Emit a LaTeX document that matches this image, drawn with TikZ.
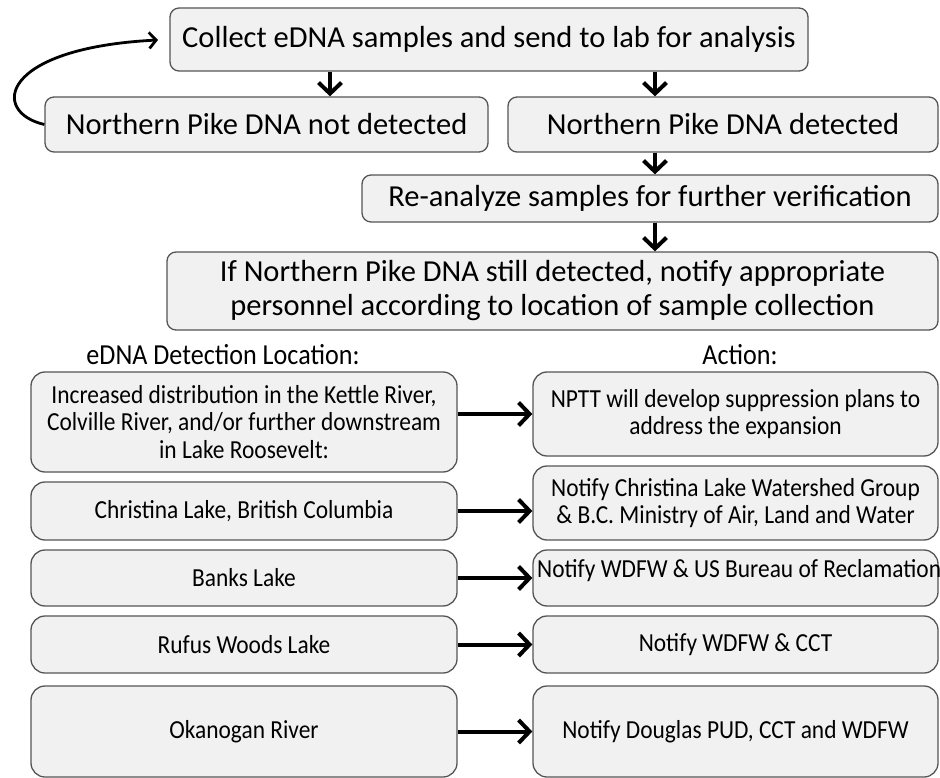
\documentclass[tikz,border=0pt]{standalone}
\usepackage{fontspec}
\setmainfont{Carlito}
\newfontfamily\narrowfont[FakeStretch=0.9]{Carlito}
\usetikzlibrary{arrows.meta}
\definecolor{boxfill}{RGB}{241,241,241}
\definecolor{boxline}{RGB}{85,85,85}

\begin{document}
\begin{tikzpicture}[x=1pt,y=-1pt,
    stepbox/.style={draw=boxline, fill=boxfill, line width=1.3pt, rounded corners=9pt,
      inner sep=0pt, align=center, font=\fontsize{30.5}{34}\selectfont},
    sitebox/.style={stepbox, rounded corners=14pt, font=\narrowfont\fontsize{26}{27.5}\selectfont},
    sitetext/.style={inner sep=0pt, font=\narrowfont\fontsize{26}{27.5}\selectfont},
    heading/.style={font=\narrowfont\fontsize{29}{30}\selectfont},
    flow/.style={-{Straight Barb[length=11pt,width=23pt]}, line width=4pt},
    loopflow/.style={-{Straight Barb[length=7pt,width=16pt]}, line width=2.8pt}]
    \useasboundingbox (0,0) rectangle (940,778);

    % top of the flow
    \node[stepbox, minimum width=638pt, minimum height=63pt] (collect) at (489,39.5) {Collect eDNA samples and send to lab for analysis};
    \node[stepbox, minimum width=443pt, minimum height=55pt] (notdet) at (266.5,124.5) {Northern Pike DNA not detected};
    \node[stepbox, minimum width=430pt, minimum height=55pt] (det) at (723,124.5) {Northern Pike DNA detected};
    \node[stepbox, minimum width=576pt, minimum height=47pt] (reanalyze) at (650,198.5) {Re-analyze samples for further verification};
    \node[stepbox, minimum width=771pt, minimum height=78pt] (notify) at (552.5,291) {If Northern Pike DNA still detected, notify appropriate\\personnel according to location of sample collection};

    \coordinate (c1) at (330,0);
    \coordinate (c2) at (655,0);
    \coordinate (back) at (158,40);

    \draw[flow] (collect.south -| c1) -- (notdet.north -| c1);
    \draw[flow] (collect.south -| c2) -- (det.north -| c2);
    \draw[flow] (det.south -| c2) -- (reanalyze.north -| c2);
    \draw[flow] (reanalyze.south -| c2) -- (notify.north -| c2);
    \draw[loopflow] (notdet.west) .. controls (-10,112) and (0,48) .. (back);

    % locations and actions
    \node[heading] (loclabel) at (223,355) {eDNA Detection Location:};
    \node[heading] (actlabel) at (740,355) {Action:};

    \node[sitebox, minimum width=426pt, minimum height=100pt] (loc1) at (244,422) {Increased distribution in the Kettle River,\\Colville River, and/or further downstream\\in Lake Roosevelt:};
    \node[sitebox, minimum width=405pt, minimum height=84pt] (act1) at (735.5,414) {NPTT will develop suppression plans to\\address the expansion};
    \node[sitebox, minimum width=426pt, minimum height=58pt] (loc2) at (244,511) {Christina Lake, British Columbia};
    \node[sitebox, minimum width=405pt, minimum height=74pt] (act2) at (735.5,503) {Notify Christina Lake Watershed Group\\\& B.C. Ministry of Air, Land and Water};
    \node[sitebox, minimum width=426pt, minimum height=56pt] (loc3) at (244,578) {Banks Lake};
    \node[sitebox, minimum width=405pt, minimum height=56pt] (act3) at (735.5,578) {};
    \node[sitetext, anchor=west] (act3text) at (537,571) {Notify WDFW \& US Bureau of Reclamation};
    \node[sitebox, minimum width=426pt, minimum height=57pt] (loc4) at (244,644.5) {Rufus Woods Lake};
    \node[sitebox, minimum width=405pt, minimum height=57pt] (act4) at (735.5,644.5) {Notify WDFW \& CCT};
    \node[sitebox, minimum width=426pt, minimum height=91pt] (loc5) at (244,731.5) {Okanogan River};
    \node[sitebox, minimum width=405pt, minimum height=91pt] (act5) at (735.5,731.5) {Notify Douglas PUD, CCT and WDFW};

    \draw[flow] (loc1.east |- act1.west) -- (act1.west);
    \draw[flow] (loc2.east) -- (loc2.east -| act2.west);
    \draw[flow] (loc3.east) -- (act3.west);
    \draw[flow] (loc4.east) -- (act4.west);
    \draw[flow] (loc5.east) -- (act5.west);
\end{tikzpicture}
\end{document}
